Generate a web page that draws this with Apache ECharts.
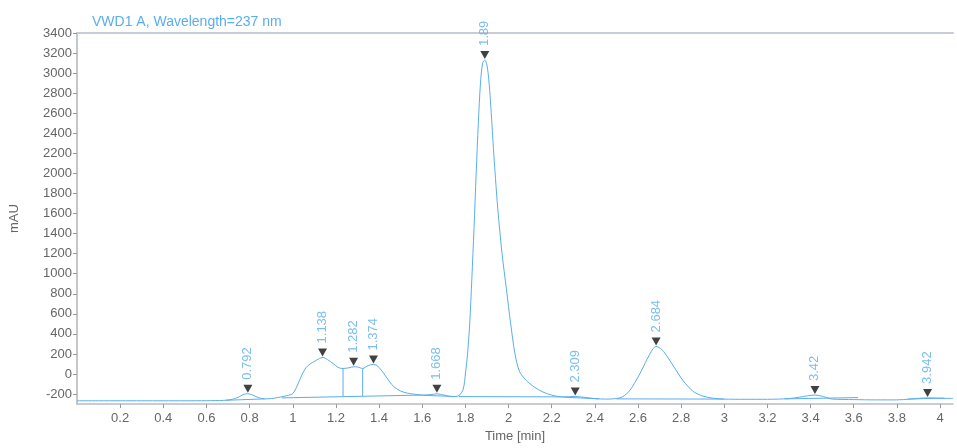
<!DOCTYPE html>
<html>
<head>
<meta charset="utf-8">
<script src="https://cdn.jsdelivr.net/npm/echarts@6/dist/echarts.min.js"></script>
<style>html,body{margin:0;padding:0;background:#fff}#c{width:957px;height:448px}</style>
</head>
<body>
<div id="c"></div>
<script>
// ---- data ----
const signalTime = [0,0.1,0.2,0.3,0.4,0.5,0.6,0.68,0.72,0.75,0.77,0.79,0.81,0.84,0.87,0.9,0.93,0.96,0.98,1.0,1.02,1.04,1.06,1.08,1.1,1.12,1.14,1.16,1.19,1.21,1.233,1.26,1.282,1.3,1.324,1.35,1.374,1.39,1.41,1.43,1.45,1.47,1.5,1.53,1.56,1.6,1.64,1.668,1.7,1.74,1.77,1.79,1.80,1.81,1.82,1.83,1.84,1.85,1.86,1.87,1.88,1.89,1.90,1.91,1.92,1.93,1.95,1.97,1.99,2.01,2.03,2.05,2.08,2.12,2.16,2.2,2.25,2.309,2.35,2.4,2.45,2.5,2.53,2.56,2.59,2.62,2.65,2.684,2.71,2.74,2.77,2.8,2.83,2.86,2.9,2.95,3.0,3.1,3.2,3.3,3.35,3.42,3.46,3.5,3.6,3.7,3.8,3.86,3.942,4.0,4.06];
const signalMAU = [-267,-267,-267,-267,-267,-267,-266,-263,-252,-230,-205,-197,-205,-235,-248,-245,-235,-222,-212,-195,-120,-20,60,100,125,150,165,145,100,65,55,62,72,70,55,85,95,85,40,-20,-80,-130,-170,-190,-200,-210,-205,-198,-210,-225,-215,-150,0,200,500,950,1450,2000,2500,2900,3100,3130,3080,2900,2600,2250,1650,1200,850,500,200,30,-60,-130,-180,-210,-228,-225,-232,-245,-250,-245,-225,-170,-70,50,180,275,245,160,60,-40,-120,-180,-220,-242,-250,-252,-252,-245,-230,-210,-225,-250,-255,-258,-258,-250,-238,-242,-243];
const peakTimes = [0.792,1.138,1.282,1.374,1.668,1.89,2.309,2.684,3.42,3.942];
const peakMAU = [-197,165,72,95,-198,3130,-225,275,-210,-238];
const peakLabels = ['0.792','1.138','1.282','1.374','1.668','1.89','2.309','2.684','3.42','3.942'];
const baselineStartTime = [0.69,0.95,1.6,1.77,2.25,2.5,3.28,3.85];
const baselineStartMAU = [-262,-238,-212,-225,-230,-248,-248,-250];
const baselineEndTime = [0.87,1.6,1.76,2.25,2.42,3.0,3.62,4.02];
const baselineEndMAU = [-248,-210,-225,-228,-248,-250,-235,-240];
const dropTimes = [1.233,1.324];
const dropTopMAU = [55,55];
const dropBottomMAU = [-223,-219];
const timeTicks = [0.2,0.4,0.6,0.8,1,1.2,1.4,1.6,1.8,2,2.2,2.4,2.6,2.8,3,3.2,3.4,3.6,3.8,4];
const mauTicks = [-200,0,200,400,600,800,1000,1200,1400,1600,1800,2000,2200,2400,2600,2800,3000,3200,3400];

const blue = '#5aaeee';
const font = 'Arial, "Liberation Sans", sans-serif';

const series = [];
series.push({
  type: 'line', data: signalTime.map((t,i)=>[t, signalMAU[i]]),
  smooth: 0.3, symbol: 'none', lineStyle: {color: blue, width: 1}, z: 3, silent: true
});
baselineStartTime.forEach((t,i)=>{
  series.push({type:'line', data:[[t, baselineStartMAU[i]],[baselineEndTime[i], baselineEndMAU[i]]],
    symbol:'none', lineStyle:{color: blue, width: 1}, z: 2, silent: true});
});
dropTimes.forEach((t,i)=>{
  series.push({type:'line', data:[[t, dropTopMAU[i]],[t, dropBottomMAU[i]]],
    symbol:'none', lineStyle:{color: blue, width: 1}, z: 2, silent: true});
});
series.push({
  type: 'scatter',
  data: peakTimes.map((t,i)=>({value:[t, peakMAU[i]], name: peakLabels[i]})),
  symbol: 'triangle', symbolRotate: 180, symbolSize: [9, 8], symbolOffset: [0, -5],
  itemStyle: {color: '#111'}, z: 5, silent: true,
  label: {
    show: true, formatter: p => p.name, rotate: 90, position: 'top', distance: 5,
    align: 'left', verticalAlign: 'middle', color: blue, fontSize: 13, fontFamily: font
  }
});

const chart = echarts.init(document.getElementById('c'), null, {renderer: 'canvas'});
chart.setOption({
  animation: false,
  backgroundColor: '#fff',
  title: {
    text: 'VWD1 A, Wavelength=237 nm', left: 87, top: 10,
    textStyle: {color: blue, fontSize: 14, fontWeight: 'normal', fontFamily: font}
  },
  grid: {left: 77, right: 4, top: 33, bottom: 41, containLabel: false},
  xAxis: [{
    type: 'value', min: 0, max: 4.06,
    name: 'Time [min]', nameLocation: 'middle', nameGap: 25,
    nameTextStyle: {color: '#666', fontSize: 13, fontFamily: font},
    axisLine: {show: true, onZero: false, lineStyle: {color: '#b8bcc4', width: 1.5}},
    axisTick: {show: true, length: 4, lineStyle: {color: '#999'}, customValues: timeTicks},
    axisLabel: {color: '#666', fontSize: 13, fontFamily: font, margin: 8, customValues: timeTicks,
      formatter: v => String(v)},
    splitLine: {show: false}
  }, {
    type: 'value', min: 0, max: 4.06, position: 'top',
    axisLine: {show: true, onZero: false, lineStyle: {color: '#c8ccd6', width: 2}},
    axisTick: {show: false}, axisLabel: {show: false}, splitLine: {show: false}
  }],
  yAxis: {
    type: 'value', min: -300, max: 3400,
    name: 'mAU', nameLocation: 'middle', nameGap: 56, nameRotate: 90,
    nameTextStyle: {color: '#666', fontSize: 13, fontFamily: font},
    axisLine: {show: true, onZero: false, lineStyle: {color: '#b0b4bc', width: 1.5}},
    axisTick: {show: true, length: 4, lineStyle: {color: '#999'}, customValues: mauTicks},
    axisLabel: {color: '#666', fontSize: 13, fontFamily: font, margin: 5, customValues: mauTicks,
      formatter: v => String(v)},
    splitLine: {show: false}
  },
  series: series
});
</script>
</body>
</html>
